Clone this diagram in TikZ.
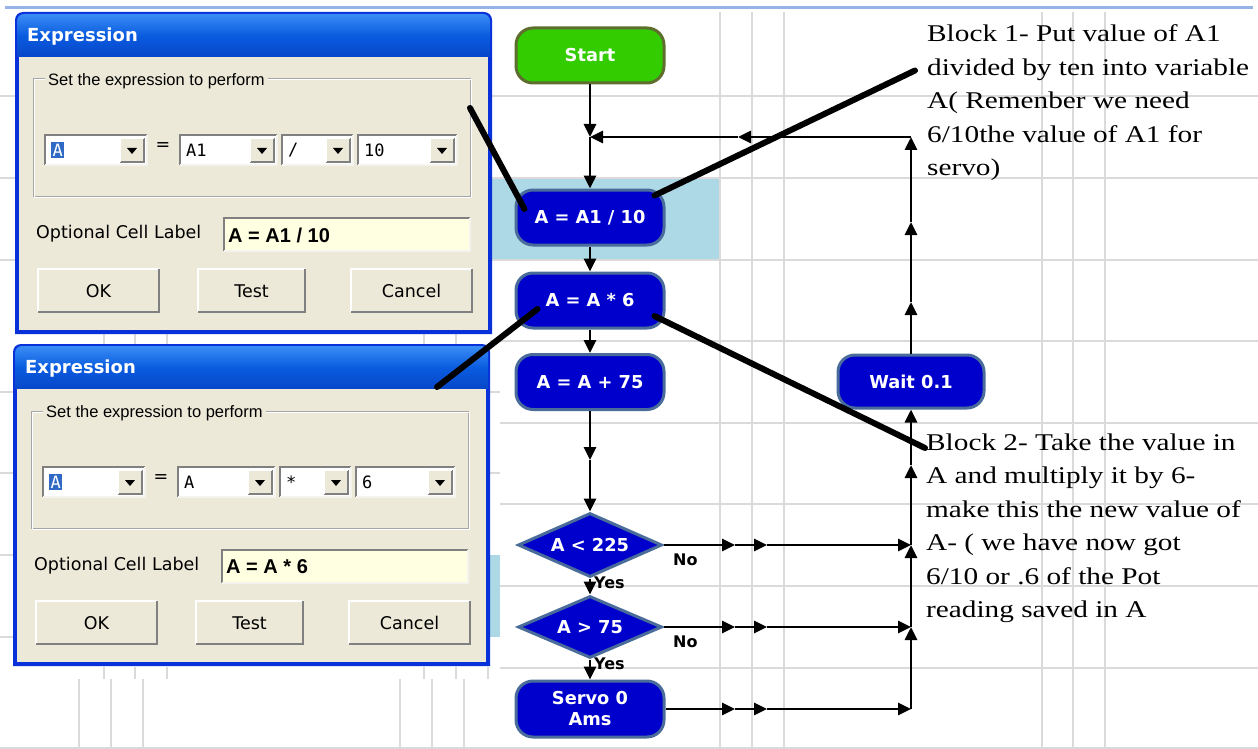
\documentclass[tikz,border=0pt]{standalone}
\usepackage{fontspec}
\usetikzlibrary{shapes.geometric,arrows.meta}
\setmainfont{DejaVu Sans}
\newfontfamily\sansreg{DejaVu Sans}
\newfontfamily\arialf{Liberation Sans}
\newfontfamily\monof{DejaVu Sans Mono}
\newfontfamily\notefont[FakeStretch=1.22]{Liberation Serif}

\newcommand\flowfont{\sansreg\bfseries\fontsize{17.8}{21}\selectfont}
\newcommand\branchfont{\sansreg\bfseries\fontsize{16}{18}\selectfont}
\newcommand\titlefont{\sansreg\bfseries\fontsize{18}{21}\selectfont}
\newcommand\dlgfont{\sansreg\fontsize{17.5}{20}\selectfont}

\definecolor{xpbeige}{HTML}{ECE9D8}
\definecolor{framedark}{HTML}{0831D9}
\definecolor{titlelight}{HTML}{3A8CF5}
\definecolor{titlemid}{HTML}{0A5CE0}
\definecolor{titledark}{HTML}{0846C8}
\definecolor{gridgray}{HTML}{DADADA}
\definecolor{bandblue}{HTML}{ADD8E6}
\definecolor{topline}{HTML}{95B4E6}
\definecolor{fieldyellow}{HTML}{FFFFE1}
\definecolor{selblue}{HTML}{316AC5}
\definecolor{cellblue}{HTML}{0000CC}
\definecolor{cellrim}{HTML}{4A6C9B}
\definecolor{startgreen}{HTML}{33CC00}
\definecolor{startrim}{HTML}{5E6E2E}
\definecolor{edgegray}{HTML}{808080}
\definecolor{edgelight}{HTML}{F4F3EE}

% combo box: left, right, top, text, node name, extra text style
\newcommand\xpcombo[6]{%
  \fill[white] (#1,#3) rectangle (#2,{#3+30});
  \draw[sunkdark] (#1,{#3+30}) -- (#1,#3) -- (#2,#3);
  \draw[sunklight] (#2,#3) -- (#2,{#3+30}) -- (#1,{#3+30});
  \fill[xpbeige] ({#2-27},{#3+3}) rectangle ({#2-3},{#3+27});
  \draw[raisedark] ({#2-27},{#3+27}) -- ({#2-3},{#3+27}) -- ({#2-3},{#3+3});
  \draw[raiselight] ({#2-27},{#3+27}) -- ({#2-27},{#3+3}) -- ({#2-3},{#3+3});
  \fill ({#2-20},{#3+13}) -- ({#2-10},{#3+13}) -- ({#2-15},{#3+19}) -- cycle;
  \node[combotext,#6] (#5) at ({#1+6},{#3+15}) {#4};
}

% push button: left, right, caption, node name
\newcommand\xpbutton[4]{%
  \fill[xpbeige] (#1,257) rectangle (#2,300);
  \draw[raiselight] (#1,300) -- (#1,257) -- (#2,257);
  \draw[raisedark] (#2,257) -- (#2,300) -- (#1,300);
  \node[dlgtext] (#4) at ({(#1+#2)/2},279) {#3};
}

% expression dialog: origin, name prefix, variable, operand, operator, value, cell label
\newcommand\xpdialog[7]{%
\begin{scope}[shift={#1}]
  \fill[framedark] (0,322) [rounded corners=8pt] -- (0,0) -- (477,0) [sharp corners] -- (477,322) -- cycle;
  \shade[top color=titlelight, bottom color=titledark, middle color=titlemid]
    (2,45) [rounded corners=7pt] -- (2,2) -- (475,2) [sharp corners] -- (475,45) -- cycle;
  \fill[xpbeige] (4,45) rectangle (473,318);
  \node[wintitle] (#2-title) at (12,25) {Expression};
  \draw[etchdark] (18,67) rectangle (455,184);
  \draw[etchlight] (19,68) rectangle (456,185);
  \node[grouplabel] (#2-group) at (30,69) {Set the expression to perform};
  \xpcombo{30}{132}{123}{#3}{#2-var}{selected}
  \node[dlgtext] (#2-eq) at (148,135) {=};
  \xpcombo{165}{262}{123}{#4}{#2-lhs}{}
  \xpcombo{267}{338}{123}{#5}{#2-op}{}
  \xpcombo{343}{442}{123}{#6}{#2-rhs}{}
  \node[dlgtext, anchor=west] (#2-caption) at (21,222) {Optional Cell Label};
  \fill[fieldyellow] (209,206) rectangle (455,239);
  \draw[sunkdark] (209,239) -- (209,206) -- (455,206);
  \draw[sunklight] (455,206) -- (455,239) -- (209,239);
  \node[fieldtext] (#2-field) at (213,223) {#7};
  \xpbutton{23}{144}{OK}{#2-ok}
  \xpbutton{183}{290}{Test}{#2-test}
  \xpbutton{336}{457}{Cancel}{#2-cancel}
\end{scope}}

\begin{document}
\begin{tikzpicture}[x=1pt,y=-1pt,
  grid/.style={gridgray, line width=1.3pt},
  flow/.style={line width=2.9pt, -{Triangle[length=13pt,width=12pt]}},
  cell/.style={rectangle, rounded corners=17pt, fill=cellblue, draw=cellrim,
    line width=3pt, minimum width=148pt, minimum height=55pt, inner sep=0pt,
    text=white, font=\flowfont, align=center},
  begincell/.style={cell, fill=startgreen, draw=startrim},
  decision/.style={diamond, aspect=2.25, fill=cellblue, draw=cellrim, line width=3pt,
    minimum width=144pt, minimum height=64pt, inner sep=0pt, text=white, font=\flowfont},
  branch/.style={font=\branchfont, inner sep=0pt, anchor=west},
  note/.style={font=\notefont\fontsize{24}{33.5}\selectfont, align=left, inner sep=0pt, anchor=north west},
  ann/.style={line width=6pt, line cap=round},
  wintitle/.style={text=white, font=\titlefont, anchor=west, inner sep=0pt},
  grouplabel/.style={fill=xpbeige, font=\arialf\fontsize{16.5}{19}\selectfont, anchor=west, inner xsep=3pt, inner ysep=1pt},
  dlgtext/.style={font=\dlgfont, inner sep=0pt},
  fieldtext/.style={font=\arialf\bfseries\fontsize{20}{23}\selectfont, anchor=west, inner sep=0pt},
  combotext/.style={font=\monof\fontsize{17}{20}\selectfont, anchor=west, inner sep=0pt},
  selected/.style={fill=selblue, text=white, inner sep=1.5pt},
  sunkdark/.style={edgegray, line width=1.5pt},
  sunklight/.style={edgelight, line width=1.5pt},
  raisedark/.style={edgegray, line width=1.5pt},
  raiselight/.style={white, line width=1.5pt},
  etchdark/.style={gray!70, line width=1pt},
  etchlight/.style={white, line width=1pt}
]
\useasboundingbox (0,0) rectangle (1258,749);
\fill[white] (0,0) rectangle (1258,749);

% sheet background: highlighted row and grid
\fill[bandblue] (490,178) rectangle (720,260);
\fill[bandblue] (490,555) rectangle (500,637);
\foreach \gx in {720,752,784,1042,1073,1105} \draw[grid] (\gx,12) -- (\gx,749);
\foreach \gy in {96,178,260,341} \draw[grid] (490,\gy) -- (1258,\gy);
\foreach \gy in {423,504,586,668} \draw[grid] (500,\gy) -- (1258,\gy);
\draw[grid] (0,748) -- (1258,748);
\foreach \gy in {96,178,260} \draw[grid] (0,\gy) -- (16,\gy);
\foreach \gy in {392,473,555,637} \draw[grid] (0,\gy) -- (14,\gy);
\foreach \gy in {392,473} \draw[grid] (490,\gy) -- (500,\gy);
\foreach \gx in {79,111,143,400,432,464} \draw[grid] (\gx,679) -- (\gx,749);
\foreach \gx in {104,135,167,424,456,488} \draw[grid] (\gx,667) -- (\gx,679);
\foreach \gx in {104,135,167,424,456} \draw[grid] (\gx,333) -- (\gx,344);
\draw[topline, line width=3pt] (5,8) -- (1253,8);

% the two expression dialogs
\xpdialog{(15,12)}{dlgA}{A}{A1}{/}{10}{A = A1 / 10}
\xpdialog{(13,344)}{dlgB}{A}{A}{*}{6}{A = A * 6}

% branch labels
\node[branch] (no1) at (673,560) {No};
\node[branch] (no2) at (673,642) {No};
\node[branch] (yes1) at (594,583) {Yes};
\node[branch] (yes2) at (594,664) {Yes};

% flowchart cells
\node[begincell] (start) at (590,55.5) {Start};
\node[cell] (a1) at (590,217.5) {A = A1 / 10};
\node[cell] (a6) at (590,300.5) {A = A * 6};
\node[cell] (a75) at (590,382) {A = A + 75};
\node[decision] (d1) at (590,545) {A < 225};
\node[decision, minimum height=62pt] (d2) at (590,627) {A > 75};
\node[cell, minimum height=56pt] (servo) at (590,709) {Servo 0\\Ams};
\node[cell, minimum width=146pt, minimum height=53pt] (wait) at (911,381.5) {Wait 0.1};

% connector junctions
\coordinate (join) at (590,137);
\coordinate (corner) at (911,137);
\coordinate (back1) at (738,137);
\coordinate (mid75) at (590,460);
\coordinate (r1a) at (735,545); \coordinate (r1b) at (767,545); \coordinate (r1) at (911,545);
\coordinate (r2a) at (735,627); \coordinate (r2b) at (767,627); \coordinate (r2) at (911,627);
\coordinate (r3a) at (735,709); \coordinate (r3b) at (767,709); \coordinate (r3) at (911,709);
\coordinate (up1) at (911,465);
\coordinate (up2) at (911,302);
\coordinate (up3) at (911,222);

% main sequence
\draw[flow] (start.south) -- (join);
\draw[flow] (join) -- (a1.north);
\draw[flow] (a1) -- (a6);
\draw[flow] (a6) -- (a75);
\draw[flow] (a75) -- (mid75);
\draw[flow] (mid75) -- (d1);
\draw[flow] (d1) -- (d2);
\draw[flow] (d2) -- (servo);

% exits to the right-hand return line
\draw[flow] (d1.east) -- (r1a);
\draw[flow] (r1a) -- (r1b);
\draw[flow] (r1b) -- (r1);
\draw[flow] (d2.east) -- (r2a);
\draw[flow] (r2a) -- (r2b);
\draw[flow] (r2b) -- (r2);
\draw[flow] (servo.east) -- (r3a);
\draw[flow] (r3a) -- (r3b);
\draw[flow] (r3b) -- (r3);

% return line up through the wait and back to the top
\draw[flow] (r3) -- (r2);
\draw[flow] (r2) -- (r1);
\draw[flow] (r1) -- (up1);
\draw[flow] (up1) -- (wait.south);
\draw[flow] (wait.north) -- (up2);
\draw[flow] (up2) -- (up3);
\draw[flow] (up3) -- (corner);
\draw[flow] (corner) -- (back1);
\draw[flow] (back1) -- (join);

% explanatory notes
\node[note] (block1) at (927,24.5) {Block 1- Put value of A1\\divided by ten into variable\\A( Remenber we need\\6/10the value of A1 for\\servo)};
\node[note] (block2) at (926,433.5) {Block 2- Take the value in\\A and multiply it by 6-\\make this the new value of\\A- ( we have now got\\6/10 or .6 of the Pot\\reading saved in A};

% pointer lines
\coordinate (tail1) at (470,108);
\coordinate (tail3) at (437,387);
\draw[ann] (tail1) -- ([xshift=10pt,yshift=8.5pt]a1.west);
\draw[ann] ([xshift=-11pt,yshift=-7pt]a1.north east) -- ([xshift=-12pt,yshift=-46pt]block1.north west);
\draw[ann] (tail3) -- ([xshift=23pt,yshift=-8.5pt]a6.west);
\draw[ann] ([xshift=-11pt,yshift=-15.5pt]a6.east) -- ([xshift=-1pt,yshift=-14.5pt]block2.north west);
\end{tikzpicture}
\end{document}
